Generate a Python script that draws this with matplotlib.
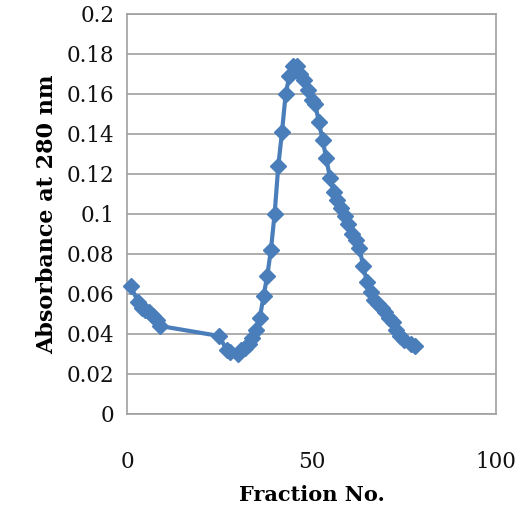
import matplotlib
matplotlib.use("Agg")
import matplotlib.pyplot as plt

fraction = [1, 3, 4, 5, 6, 7, 8, 9, 25, 27, 28, 30, 31, 32, 33, 34, 35, 36, 37, 38, 39, 40,
            41, 42, 43, 44, 45, 46, 47, 48, 49, 50, 51, 52, 53, 54, 55, 56, 57, 58, 59, 60,
            61, 62, 63, 64, 65, 66, 67, 68, 69, 70, 71, 72, 73, 74, 75, 77, 78]
absorbance = [0.064, 0.056, 0.053, 0.052, 0.051, 0.049, 0.047, 0.044, 0.039, 0.032, 0.031,
              0.030, 0.032, 0.033, 0.035, 0.038, 0.042, 0.048, 0.059, 0.069, 0.082, 0.100,
              0.124, 0.141, 0.160, 0.169, 0.174, 0.174, 0.170, 0.167, 0.162, 0.157, 0.155,
              0.146, 0.137, 0.128, 0.118, 0.111, 0.107, 0.103, 0.099, 0.095, 0.090, 0.087,
              0.083, 0.074, 0.066, 0.061, 0.057, 0.055, 0.053, 0.051, 0.048, 0.046, 0.042,
              0.039, 0.037, 0.035, 0.034]
x_ticks = [0, 50, 100]
y_ticks = [0, 0.02, 0.04, 0.06, 0.08, 0.1, 0.12, 0.14, 0.16, 0.18, 0.2]
y_tick_labels = ["0", "0.02", "0.04", "0.06", "0.08", "0.1", "0.12", "0.14", "0.16", "0.18", "0.2"]

plt.rcParams['font.family'] = ['DejaVu Serif']

fig = plt.figure(figsize=(5.25, 5.14), dpi=100)
ax = fig.add_axes([127/525, 1 - 414/514, (496 - 127)/525, (414 - 14)/514])

ax.plot(fraction, absorbance, color="#4A7EBB", lw=3, marker="D", markersize=8.5,
        markeredgecolor="#4A7EBB", markerfacecolor="#4A7EBB", clip_on=False, zorder=3)

ax.set_xlim(0, 100)
ax.set_ylim(0, 0.2)
ax.set_xticks(x_ticks)
ax.set_yticks(y_ticks)
ax.set_yticklabels(y_tick_labels)
ax.tick_params(axis="both", length=0, labelsize=15.5, colors="#111111")
ax.tick_params(axis="x", pad=27)
ax.tick_params(axis="y", pad=9)
ax.yaxis.grid(True, color="#A0A0A0", lw=1.2)
ax.set_axisbelow(True)
for s in ax.spines.values():
    s.set_color("#A0A0A0")
    s.set_linewidth(1.2)

ax.set_xlabel("Fraction No.", fontsize=15, fontweight="bold", labelpad=8)
ax.set_ylabel("Absorbance at 280 nm", fontsize=16, fontweight="bold", labelpad=6)

fig.savefig("out.png", dpi=100)
